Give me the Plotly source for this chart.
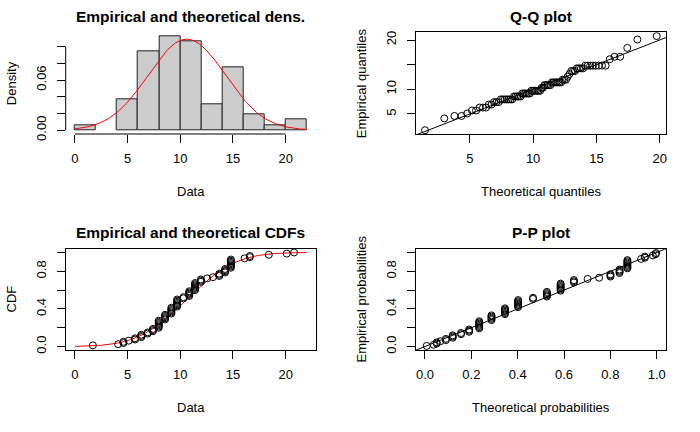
import numpy as np
import plotly.graph_objects as go
from statistics import NormalDist

# ---- data (distinct observed values and how often each occurs) ----
obs_values = [1.7, 4.1, 4.6, 5.1, 5.7, 6.3, 6.9, 7.4, 7.95, 8.55, 9.15, 9.7,
              10.3, 10.85, 11.4, 11.95, 12.55, 13.1, 13.7, 14.25, 14.8,
              16.1, 16.6, 18.4, 20.1, 20.8]
obs_counts = [1, 1, 2, 1, 2, 3, 2, 3, 7, 5, 6, 7,
              2, 5, 7, 3, 1, 1, 3, 4, 8,
              1, 2, 1, 1, 1]

hist_start, hist_end, hist_size = 0, 22, 2

dens_ticks = [0.00, 0.02, 0.04, 0.06, 0.08, 0.10]
dens_text = ["0.00", "", "", "0.06", "", ""]
data_ticks = [0, 5, 10, 15, 20]
qq_ticks = [5, 10, 15, 20]
qq_y_text = ["5", "10", "", "20"]
prob_ticks = [0.0, 0.2, 0.4, 0.6, 0.8, 1.0]
prob_y_text = ["0.0", "", "0.4", "", "0.8", ""]
prob_x_text = ["0.0", "0.2", "0.4", "0.6", "0.8", "1.0"]

# ---- derived quantities (fit a normal by maximum likelihood) ----
data = np.sort(np.repeat(obs_values, obs_counts))
n = len(data)
fit = NormalDist(float(data.mean()), float(data.std()))
pp = (np.arange(1, n + 1) - 0.5) / n
theo_q = np.array([fit.inv_cdf(p) for p in pp])
theo_p = np.array([fit.cdf(v) for v in data])
ecdf = np.arange(1, n + 1) / n
grid = np.linspace(hist_start, hist_end, 301)
pdf_curve = np.array([fit.pdf(v) for v in grid])
cdf_curve = np.array([fit.cdf(v) for v in grid])

counts, _ = np.histogram(data, bins=np.arange(hist_start, hist_end + hist_size, hist_size))
max_dens = max((counts / (n * hist_size)).max(), pdf_curve.max())


def rrange(lo, hi):
    d = (hi - lo) * 0.04
    return [lo - d, hi + d]


W, H = 700, 432
FONT = "Liberation Sans, Arial, Helvetica, sans-serif"


def fx(px):
    return px / W


def fy(py):
    return 1 - py / H


LX = [fx(65.7), fx(316)]
RX = [fx(415.7), fx(666)]
TY = [fy(134), fy(32.3)]
BY = [fy(350.3), fy(248.7)]

fig = go.Figure()

# 1. histogram + density
fig.add_trace(go.Histogram(x=data, histnorm="probability density",
                           xbins=dict(start=hist_start, end=hist_end, size=hist_size),
                           marker=dict(color="#CCCCCC", line=dict(color="#222222", width=1)),
                           xaxis="x", yaxis="y", showlegend=False))
fig.add_trace(go.Scatter(x=grid, y=pdf_curve, mode="lines", line=dict(color="red", width=1),
                         xaxis="x", yaxis="y", showlegend=False))

# 2. Q-Q
qx = rrange(theo_q.min(), theo_q.max())
qy = rrange(data.min(), data.max())
fig.add_trace(go.Scatter(x=theo_q, y=data, mode="markers",
                         marker=dict(symbol="circle-open", size=7, color="black", line=dict(width=1)),
                         xaxis="x2", yaxis="y2", showlegend=False))
fig.add_trace(go.Scatter(x=[-5, 30], y=[-5, 30], mode="lines", line=dict(color="black", width=1),
                         xaxis="x2", yaxis="y2", showlegend=False))

# 3. CDF
fig.add_trace(go.Scatter(x=grid, y=cdf_curve, mode="lines", line=dict(color="red", width=1),
                         xaxis="x3", yaxis="y3", showlegend=False))
fig.add_trace(go.Scatter(x=data, y=ecdf, mode="markers",
                         marker=dict(symbol="circle-open", size=7, color="black", line=dict(width=1)),
                         xaxis="x3", yaxis="y3", showlegend=False))

# 4. P-P
fig.add_trace(go.Scatter(x=theo_p, y=pp, mode="markers",
                         marker=dict(symbol="circle-open", size=7, color="black", line=dict(width=1)),
                         xaxis="x4", yaxis="y4", showlegend=False))
fig.add_trace(go.Scatter(x=[-1, 2], y=[-1, 2], mode="lines", line=dict(color="black", width=1),
                         xaxis="x4", yaxis="y4", showlegend=False))

tickfont = dict(family=FONT, size=13, color="black")
common = dict(showgrid=False, zeroline=False, ticks="outside", ticklen=8, tickwidth=1,
              tickcolor="black", tickfont=tickfont, fixedrange=True, automargin=False)
boxed = dict(showline=True, linecolor="black", linewidth=1, mirror=True)
XS = 4
YS = 6

fig.update_layout(
    template="none",
    width=W, height=H, margin=dict(l=0, r=0, t=0, b=0, pad=0), autosize=False,
    paper_bgcolor="white", plot_bgcolor="white", bargap=0,
    font=dict(family=FONT, color="black"),
    xaxis=dict(domain=LX, anchor="y", range=rrange(hist_start, hist_end),
               tickvals=data_ticks, ticklabelstandoff=XS, showline=False, **common),
    yaxis=dict(domain=TY, anchor="x", range=rrange(0, max_dens),
               tickvals=dens_ticks, ticktext=dens_text, tickangle=-90,
               ticklabelstandoff=YS, showline=False, **common),
    xaxis2=dict(domain=RX, anchor="y2", range=qx, tickvals=qq_ticks,
                ticklabelstandoff=XS, **boxed, **common),
    yaxis2=dict(domain=TY, anchor="x2", range=qy, tickvals=qq_ticks, ticktext=qq_y_text,
                tickangle=-90, ticklabelstandoff=YS, **boxed, **common),
    xaxis3=dict(domain=LX, anchor="y3", range=rrange(hist_start, hist_end), tickvals=data_ticks,
                ticklabelstandoff=XS, **boxed, **common),
    yaxis3=dict(domain=BY, anchor="x3", range=rrange(0, 1), tickvals=prob_ticks,
                ticktext=prob_y_text, tickangle=-90, ticklabelstandoff=YS, **boxed, **common),
    xaxis4=dict(domain=RX, anchor="y4", range=rrange(0, 1), tickvals=prob_ticks,
                ticktext=prob_x_text, ticklabelstandoff=XS, **boxed, **common),
    yaxis4=dict(domain=BY, anchor="x4", range=rrange(0, 1), tickvals=prob_ticks,
                ticktext=prob_y_text, tickangle=-90, ticklabelstandoff=YS, **boxed, **common),
)

# axis lines of the histogram panel (only over the tick span, like base R)
fig.add_shape(type="line", xref="x", yref="y domain", x0=data_ticks[0], x1=data_ticks[-1], y0=0, y1=0,
              line=dict(color="black", width=1))
fig.add_shape(type="line", xref="x domain", yref="y", x0=0, x1=0, y0=dens_ticks[0], y1=dens_ticks[-1],
              line=dict(color="black", width=1))


def ann(text, px, py, size=13, bold=False, angle=0):
    fig.add_annotation(text=f"<b>{text}</b>" if bold else text, x=fx(px), y=fy(py),
                       xref="paper", yref="paper", showarrow=False, textangle=angle,
                       xanchor="center", yanchor="middle",
                       font=dict(family=FONT, size=size, color="black"))


lcx = (65.7 + 316) / 2
rcx = (415.7 + 666) / 2
tcy = (32.3 + 134) / 2
bcy = (248.7 + 350.3) / 2
ann("Empirical and theoretical dens.", lcx, 16.7, size=15.5, bold=True)
ann("Q-Q plot", rcx, 16.7, size=15.5, bold=True)
ann("Empirical and theoretical CDFs", lcx, 232.7, size=15.5, bold=True)
ann("P-P plot", rcx, 232.7, size=15.5, bold=True)
ann("Data", lcx, 191)
ann("Theoretical quantiles", rcx, 191)
ann("Data", lcx, 407.7)
ann("Theoretical probabilities", rcx, 407.7)
ann("Density", 11, tcy, angle=-90)
ann("Empirical quantiles", 361, tcy, angle=-90)
ann("CDF", 11, bcy, angle=-90)
ann("Empirical probabilities", 361, bcy, angle=-90)

# the page body has a default 8px margin; remove it so the figure fills the window
fig.write_html("out.html", config={"displayModeBar": False},
               post_script="document.body.style.margin='0px';")
